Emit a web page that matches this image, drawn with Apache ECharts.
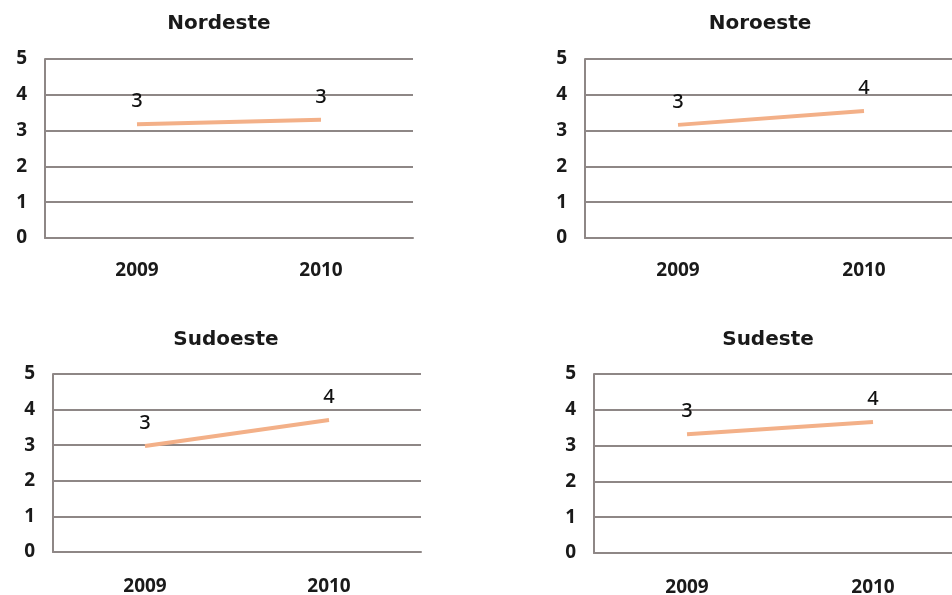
<!DOCTYPE html>
<html>
<head>
<meta charset="utf-8">
<script src="https://cdn.jsdelivr.net/npm/echarts@6/dist/echarts.min.js"></script>
<style>
html,body{margin:0;padding:0;background:#fff;}
#chart{width:952px;height:595px;}
</style>
</head>
<body>
<div id="chart"></div>
<script>
const categories = ['2009', '2010'];
const titles = ['Nordeste', 'Noroeste', 'Sudoeste', 'Sudeste'];
const nordeste = [3.18, 3.30];
const noroeste = [3.16, 3.55];
const sudoeste = [2.98, 3.71];
const sudeste = [3.32, 3.66];
const yTicks = [0, 1, 2, 3, 4, 5];

const seriesData = [nordeste, noroeste, sudoeste, sudeste];
const grids = [
  {left: 45, top: 59, width: 368, height: 179, outerBoundsMode: 'none'},
  {left: 585, top: 59, width: 372, height: 179, outerBoundsMode: 'none'},
  {left: 53, top: 374, width: 368, height: 178, outerBoundsMode: 'none'},
  {left: 594, top: 374, width: 372, height: 179, outerBoundsMode: 'none'}
];
const titlePos = [[214, 9], [755, 9], [221, 325], [763, 325]];
const TFONT = '"DejaVu Sans", sans-serif';
const AFONT = '"Noto Sans", Roboto, sans-serif';
const gray = '#8e8786';

const option = {
  backgroundColor: '#fff',
  animation: false,
  title: titles.map((t, i) => ({
    text: t, left: titlePos[i][0], top: titlePos[i][1], textAlign: 'center',
    textStyle: {fontFamily: TFONT, fontWeight: 'bold', fontSize: 20, color: '#1a1a1a'}
  })),
  grid: grids,
  xAxis: grids.map((g, i) => ({
    type: 'category', gridIndex: i, data: categories, boundaryGap: true,
    axisLine: {show: true, lineStyle: {color: gray, width: 2}},
    axisTick: {show: false},
    axisLabel: {margin: i < 2 ? 23 : 25, fontFamily: AFONT, fontWeight: 'bold', fontSize: 19, color: '#1a1a1a'}
  })),
  yAxis: grids.map((g, i) => ({
    type: 'value', gridIndex: i, min: yTicks[0], max: yTicks[yTicks.length - 1], interval: 1,
    axisLine: {show: true, lineStyle: {color: gray, width: 2}},
    axisTick: {show: false},
    splitLine: {show: true, lineStyle: {color: gray, width: 2}},
    axisLabel: {margin: 18, fontFamily: AFONT, fontWeight: 'bold', fontSize: 19, color: '#1a1a1a'}
  })),
  series: seriesData.map((d, i) => ({
    type: 'line', xAxisIndex: i, yAxisIndex: i, data: d,
    symbol: 'circle', symbolSize: 1, showSymbol: true,
    itemStyle: {color: 'rgba(0,0,0,0)'},
    lineStyle: {color: '#f3b088', width: 4},
    label: {show: true, position: 'top', distance: 12,
      formatter: p => String(Math.round(p.value)),
      fontFamily: AFONT, fontSize: 20, fontWeight: 500, color: '#111'}
  }))
};
const chart = echarts.init(document.getElementById('chart'), null, {renderer: 'canvas'});
chart.setOption(option);
</script>
</body>
</html>
